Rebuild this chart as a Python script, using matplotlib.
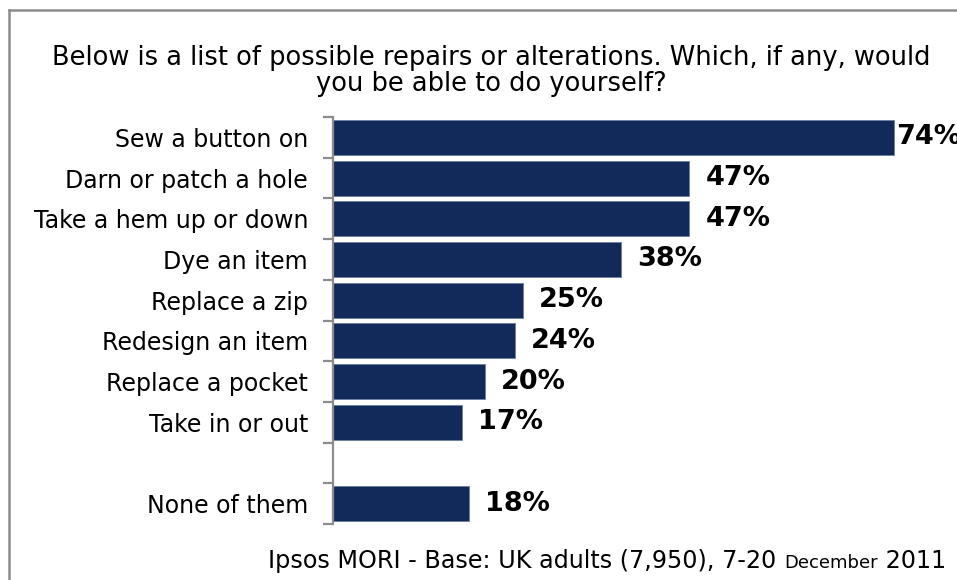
import matplotlib
matplotlib.use("Agg")
import matplotlib.pyplot as plt
from matplotlib.lines import Line2D

# Survey answers, top to bottom; the blank entry leaves an empty slot
categories = ["Sew a button on", "Darn or patch a hole", "Take a hem up or down",
              "Dye an item", "Replace a zip", "Redesign an item",
              "Replace a pocket", "Take in or out", "", "None of them"]
values = [74, 47, 47, 38, 25, 24, 20, 17, None, 18]

title = ("Below is a list of possible repairs or alterations. Which, if any, would\n"
         "you be able to do yourself?")
source_parts = [("Ipsos MORI - Base: UK adults (7,950), 7-20 ", 17.2),
                ("December", 13), (" 2011", 17.2)]

BAR = "#122a5a"
GREY = "#8c8c8c"
FONT = "DejaVu Sans"
plt.rcParams["font.family"] = FONT

W, H, DPI = 957, 580, 100
fig = plt.figure(figsize=(W / DPI, H / DPI), dpi=DPI)
fig.patch.set_facecolor("white")

# frame around the whole graphic (left and top edges visible)
fig.add_artist(Line2D([9 / W, 9 / W], [0, 1 - 10 / H], transform=fig.transFigure,
                      color=GREY, lw=1.8))
fig.add_artist(Line2D([9 / W, 1], [1 - 10 / H, 1 - 10 / H], transform=fig.transFigure,
                      color=GREY, lw=1.8))

left_px, top_px, bottom_px = 333, 117, 524
px_per_pct = 7.58
ax = fig.add_axes([left_px / W, 1 - bottom_px / H,
                   1 - left_px / W, (bottom_px - top_px) / H])
ax.set_xlim(0, (W - left_px) / px_per_pct)
n = len(categories)
ax.set_ylim(n - 0.5, -0.5)

for i, v in enumerate(values):
    if v is None:
        continue
    ax.barh(i, v, height=0.86, color=BAR, edgecolor="#6b7fa3", linewidth=0.6)
    offset = 2 if v > 70 else 16
    ax.annotate(f"{v}%", xy=(v, i), xytext=(offset * 72 / DPI, 0),
                textcoords="offset points", ha="left", va="center",
                fontsize=19.5, fontweight="bold", color="black",
                annotation_clip=False)

for s in ["top", "right", "bottom"]:
    ax.spines[s].set_visible(False)
ax.spines["left"].set_color(GREY)
ax.spines["left"].set_linewidth(1.6)
ax.set_xticks([])
ax.set_yticks(range(n))
ax.set_yticklabels(categories, fontsize=17)
ax.tick_params(axis="y", which="major", length=0, pad=18)
ax.set_yticks([k - 0.5 for k in range(n + 1)], minor=True)
ax.tick_params(axis="y", which="minor", length=7, width=1.6, color=GREY,
               direction="out")

fig.text(491 / W, 1 - 71 / H, title, ha="center", va="center", fontsize=18.5,
         linespacing=0.97)

# source line with a smaller month name, all on one baseline
fig.canvas.draw()
renderer = fig.canvas.get_renderer()
x = 268
baseline = 1 - 568 / H
for txt, size in source_parts:
    t = fig.text(x / W, baseline, txt, ha="left", va="baseline", fontsize=size)
    x = t.get_window_extent(renderer).x1

fig.savefig("out.png", dpi=DPI, facecolor="white")
